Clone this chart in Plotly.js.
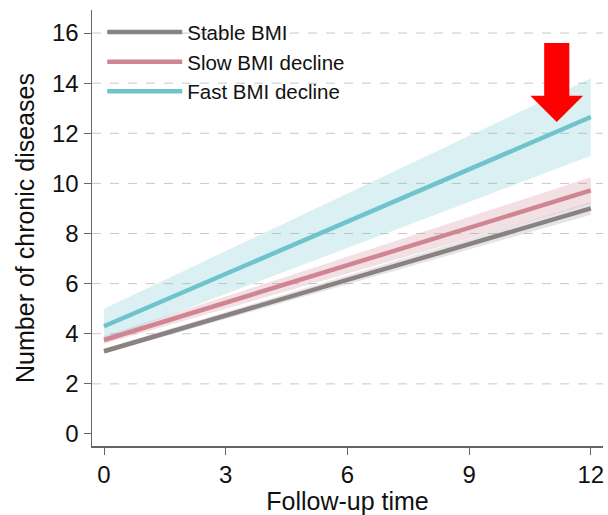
<!DOCTYPE html>
<html>
<head>
<meta charset="utf-8">
<script src="https://cdn.plot.ly/plotly-3.0.1.min.js"></script>
<style>html,body{margin:0;padding:0;background:#fff;}#chart{width:608px;height:515px;}</style>
</head>
<body>
<div id="chart"></div>
<script>
const time = [0, 12];
const seriesNames = ["Stable BMI", "Slow BMI decline", "Fast BMI decline"];
const stableMean = [3.3, 9.0];
const stableLow = [3.2, 8.75];
const stableHigh = [3.4, 9.25];
const slowMean = [3.75, 9.72];
const slowLow = [3.6, 9.2];
const slowHigh = [3.9, 10.25];
const fastMean = [4.3, 12.65];
const fastLow = [3.75, 11.1];
const fastHigh = [5.0, 14.2];
const yTicks = [0, 2, 4, 6, 8, 10, 12, 14, 16];
const xTicks = [0, 3, 6, 9, 12];
const gridVals = [2, 4, 6, 8, 10, 12, 14, 16];

const lineColors = ["#8a8282", "#d08592", "#6ec3cc"];
const bandColors = ["rgba(150,150,150,0.25)", "rgba(208,133,146,0.25)", "rgba(110,195,204,0.25)"];
const means = [stableMean, slowMean, fastMean];
const lows = [stableLow, slowLow, fastLow];
const highs = [stableHigh, slowHigh, fastHigh];

const traces = [];
for (let i = 0; i < 3; i++) {
  traces.push({x: time, y: lows[i], mode: "lines", line: {width: 0, color: bandColors[i]}, showlegend: false, hoverinfo: "skip"});
  traces.push({x: time, y: highs[i], mode: "lines", line: {width: 0, color: bandColors[i]}, fill: "tonexty", fillcolor: bandColors[i], showlegend: false, hoverinfo: "skip"});
}
for (let i = 0; i < 3; i++) {
  traces.push({x: time, y: means[i], mode: "lines", name: seriesNames[i], line: {color: lineColors[i], width: 4.5}});
}

const shapes = gridVals.map(v => ({type: "line", xref: "paper", x0: 0, x1: 1, yref: "y", y0: v, y1: v, line: {color: "#c8c8c8", width: 1, dash: "dash"}, layer: "below"}));

// red arrow (annotation) in data coordinates
const arX = 11.16, shaftHalf = 0.31, headHalf = 0.65, arTop = 15.6, arNeck = 13.5, arTip = 12.45;
shapes.push({type: "path", xref: "x", yref: "y",
  path: `M ${arX-shaftHalf} ${arTop} L ${arX+shaftHalf} ${arTop} L ${arX+shaftHalf} ${arNeck} L ${arX+headHalf} ${arNeck} L ${arX} ${arTip} L ${arX-headHalf} ${arNeck} L ${arX-shaftHalf} ${arNeck} Z`,
  fillcolor: "#ff0000", line: {width: 0}, layer: "above"});

const font = {family: "Liberation Sans, Arial, sans-serif", color: "#111"};
const layout = {
  width: 608, height: 515,
  margin: {l: 92, r: 5, t: 10, b: 69},
  paper_bgcolor: "#fff", plot_bgcolor: "#fff",
  font: font,
  showlegend: true,
  legend: {x: 0.02, y: 0.995, xanchor: "left", yanchor: "top", traceorder: "normal", bgcolor: "rgba(0,0,0,0)", font: {family: font.family, size: 20.5, color: "#111"}, itemwidth: 75, tracegroupgap: 0},
  xaxis: {range: [-0.296, 12.3], tickvals: xTicks, ticktext: xTicks.map(String), ticks: "outside", ticklen: 7, tickcolor: "#666", showline: true, linecolor: "#666", linewidth: 1.5, showgrid: false, zeroline: false, tickfont: {size: 24, family: font.family, color: "#111"},
    title: {text: "Follow-up time", font: {size: 25, family: font.family, color: "#111"}, standoff: 5}},
  yaxis: {range: [-0.48, 16.92], tickvals: yTicks, ticktext: yTicks.map(String), ticks: "outside", ticklen: 7, tickcolor: "#666", showline: true, linecolor: "#666", linewidth: 1.5, showgrid: false, zeroline: false, tickfont: {size: 24, family: font.family, color: "#111"},
    title: {text: "Number of chronic diseases", font: {size: 25, family: font.family, color: "#111"}, standoff: 10}},
  shapes: shapes
};
Plotly.newPlot("chart", traces, layout, {staticPlot: true});
</script>
</body>
</html>
